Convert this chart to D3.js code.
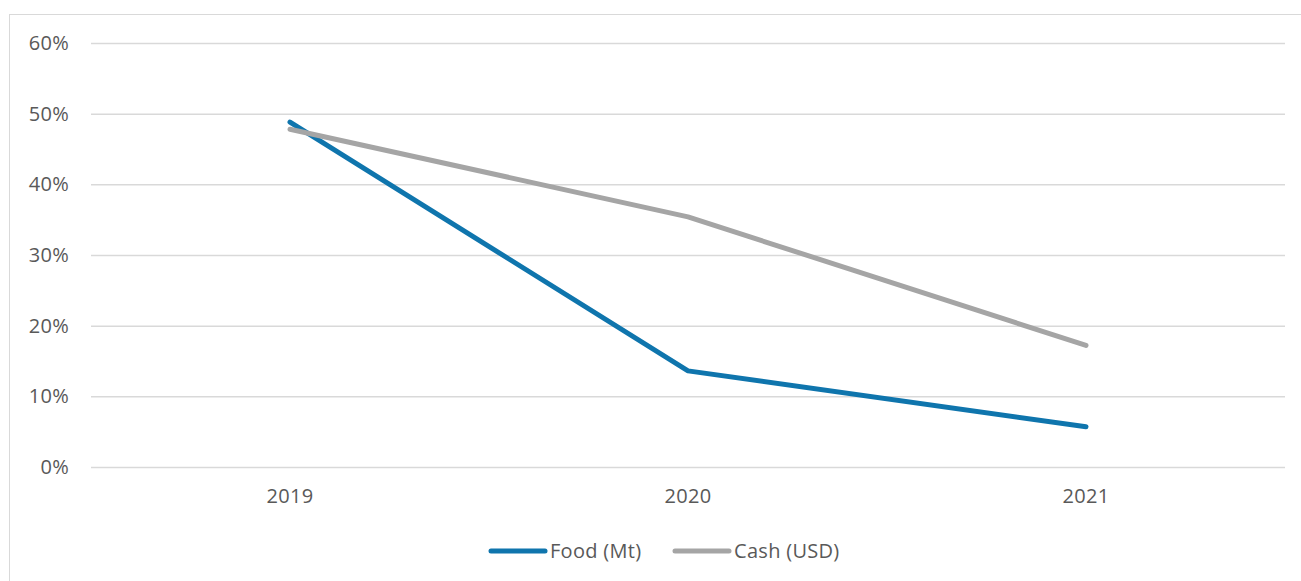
<!DOCTYPE html>
<html><head><meta charset="utf-8">
<script src="https://cdn.jsdelivr.net/npm/d3@7"></script>
<style>body{margin:0;background:#fff;}svg{display:block;font-family:"Open Sans",sans-serif;}</style>
</head><body><svg id="c" width="1301" height="581"></svg>
<script>
const categories = ["2019", "2020", "2021"];
const food = [0.488, 0.136, 0.057];
const cash = [0.478, 0.354, 0.172];
const seriesNames = ["Food (Mt)", "Cash (USD)"];
const yTicks = [0, 0.1, 0.2, 0.3, 0.4, 0.5, 0.6];

(function () {
const svg = d3.select("#c");
const colors = ["#0F75AD", "#A5A5A5"];
const textColor = "#595959";
const fs = 20;

svg.append("rect").attr("x", 9.5).attr("y", 14.5).attr("width", 1300).attr("height", 600)
  .attr("fill", "#fff").attr("stroke", "#D9D9D9").attr("stroke-width", 1);

const pLeft = 91, pRight = 1285, pTop = 43, pBottom = 467;
const x = d3.scaleBand().domain(categories).range([pLeft, pRight]);
const y = d3.scaleLinear().domain([0, 0.6]).range([pBottom, pTop]);

const yAxis = d3.axisLeft(y).tickValues(yTicks).tickFormat(d3.format(".0%")).tickSize(-(pRight - pLeft)).tickPadding(22);
const gy = svg.append("g").attr("transform", `translate(${pLeft},0)`).call(yAxis);
gy.select(".domain").remove();
gy.selectAll(".tick line").attr("stroke", "#D9D9D9").attr("stroke-width", 1.5);
gy.selectAll(".tick text").attr("fill", textColor).attr("font-size", fs).attr("font-family", "Open Sans").attr("letter-spacing", 0.3);

const xAxis = d3.axisBottom(x).tickSize(0).tickPadding(22);
const gx = svg.append("g").attr("transform", `translate(0,${pBottom})`).call(xAxis);
gx.select(".domain").remove();
gx.selectAll(".tick text").attr("fill", textColor).attr("font-size", fs).attr("font-family", "Open Sans").attr("letter-spacing", 0.3);

const line = d3.line().x((d, i) => x(categories[i]) + x.bandwidth() / 2).y(d => y(d));
[food, cash].forEach((s, k) => {
  svg.append("path").datum(s).attr("d", line).attr("fill", "none")
    .attr("stroke", colors[k]).attr("stroke-width", 5)
    .attr("stroke-linecap", "round").attr("stroke-linejoin", "round");
});

const legendY = 551;
const legendItems = [{x: 491, name: seriesNames[0], c: colors[0]}, {x: 675, name: seriesNames[1], c: colors[1]}];
legendItems.forEach(it => {
  const g = svg.append("g").attr("transform", `translate(${it.x},${legendY})`);
  g.append("line").attr("x1", 0).attr("x2", 54).attr("y1", 0).attr("y2", 0)
    .attr("stroke", it.c).attr("stroke-width", 5).attr("stroke-linecap", "round");
  g.append("text").attr("x", 59).attr("y", 0).attr("dy", "0.35em")
    .attr("fill", textColor).attr("font-size", fs).attr("letter-spacing", 0.3).text(it.name);
});
})();
</script></body></html>
